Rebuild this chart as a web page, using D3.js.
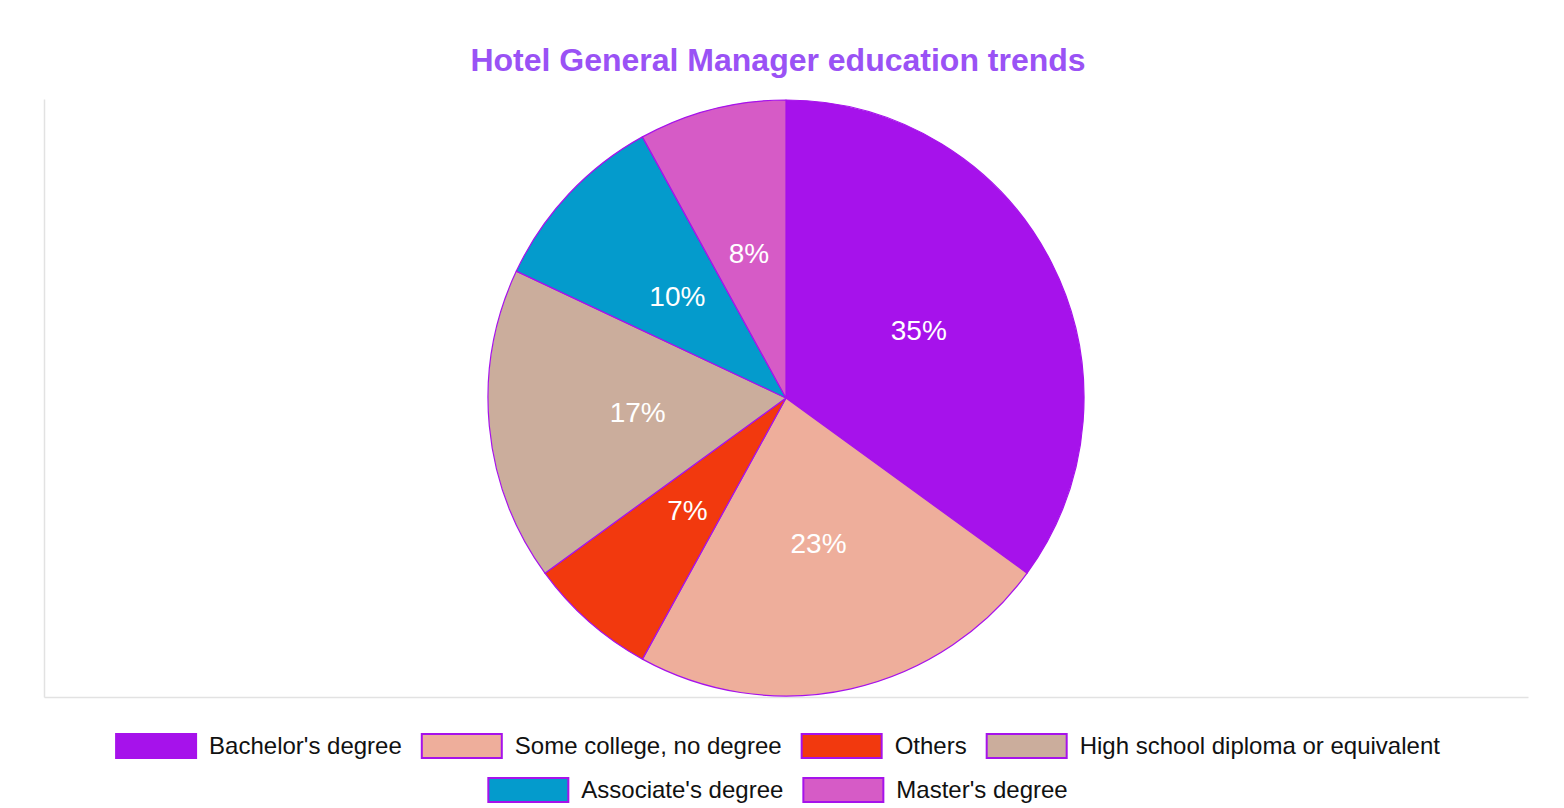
<!DOCTYPE html>
<html>
<head>
<meta charset="utf-8">
<script src="https://cdn.jsdelivr.net/npm/d3@7"></script>
<style>
  body { margin: 0; background: #fff; }
  text { font-family: "Liberation Sans", Arial, Helvetica, sans-serif; }
</style>
</head>
<body>
<div id="chart"></div>
<script>
// data
const categories = [
  "Bachelor's degree",
  "Some college, no degree",
  "Others",
  "High school diploma or equivalent",
  "Associate's degree",
  "Master's degree"
];
const shares = [35, 23, 7, 17, 10, 8];
const colours = ['#a612eb', '#eeae9b', '#f2390e', '#cbad9c', '#049bcc', '#d65bc6'];
const title = 'Hotel General Manager education trends';

const width = 1564;
const height = 808;
const plot = { left: 44, right: 1528, top: 99, bottom: 697 };

const svg = d3.select('#chart')
  .append('svg')
  .attr('width', width)
  .attr('height', height);

// title
svg.append('text')
  .attr('x', 778)
  .attr('y', 71)
  .attr('text-anchor', 'middle')
  .attr('font-size', '32px')
  .attr('font-weight', 'bold')
  .attr('fill', '#9a52f5')
  .text(title);

// faint frame lines on left and bottom
const x = d3.scaleLinear().domain([0, 1]).range([plot.left, plot.right]);
const y = d3.scaleLinear().domain([0, 1]).range([plot.bottom, plot.top]);

svg.append('g')
  .attr('transform', `translate(0, ${plot.bottom})`)
  .call(d3.axisBottom(x).ticks(0).tickSize(0).tickFormat(''));
svg.append('g')
  .attr('transform', `translate(${plot.left}, 0)`)
  .call(d3.axisLeft(y).ticks(0).tickSize(0).tickFormat(''));
svg.selectAll('.domain')
  .attr('stroke', '#e2e2e2')
  .attr('stroke-width', 1.5);

// pie
const cx = (plot.left + plot.right) / 2;
const cy = (plot.top + plot.bottom) / 2;
const radius = 298;

const pie = d3.pie().sort(null).value((d) => d.value);
const arc = d3.arc().innerRadius(0).outerRadius(radius);

const slices = pie(categories.map((c, i) => ({ name: c, value: shares[i], colour: colours[i] })));

const g = svg.append('g').attr('transform', `translate(${cx}, ${cy})`);

g.selectAll('path')
  .data(slices)
  .join('path')
  .attr('d', arc)
  .attr('fill', (d) => d.data.colour)
  .attr('stroke', '#a612eb')
  .attr('stroke-width', 1.2)
  .attr('stroke-linejoin', 'round');

g.selectAll('text.pct')
  .data(slices)
  .join('text')
  .attr('class', 'pct')
  .attr('transform', (d) => `translate(${arc.centroid(d)})`)
  .attr('text-anchor', 'middle')
  .attr('dy', '0.35em')
  .attr('font-size', '28px')
  .attr('fill', '#fff')
  .text((d) => d.data.value + '%');

// legend, centred rows like the original
const boxW = 80, boxH = 24, boxGap = 13, itemGap = 20, rowH = 44;
const legendY = 746;
const legendMid = 778;
const maxRow = 1400;

const legend = svg.append('g');
const items = legend.selectAll('g')
  .data(slices)
  .join('g');

items.append('rect')
  .attr('width', boxW)
  .attr('height', boxH)
  .attr('y', -boxH / 2)
  .attr('fill', (d) => d.data.colour)
  .attr('stroke', '#a612eb')
  .attr('stroke-width', 2);

items.append('text')
  .attr('x', boxW + boxGap)
  .attr('dy', '0.35em')
  .attr('font-size', '24px')
  .attr('fill', '#111')
  .text((d) => d.data.name);

// work out rows from measured text widths
const widths = [];
items.each(function () {
  widths.push(boxW + boxGap + d3.select(this).select('text').node().getComputedTextLength());
});
const rows = [[]];
let rowWidth = 0;
widths.forEach((w, i) => {
  const add = (rows[rows.length - 1].length ? itemGap : 0) + w;
  if (rowWidth + add > maxRow && rows[rows.length - 1].length) {
    rows.push([i]);
    rowWidth = w;
  } else {
    rows[rows.length - 1].push(i);
    rowWidth += add;
  }
});
const pos = [];
rows.forEach((row, r) => {
  const total = d3.sum(row, (i) => widths[i]) + itemGap * (row.length - 1);
  let px = legendMid - total / 2;
  row.forEach((i) => {
    pos[i] = [px, legendY + r * rowH];
    px += widths[i] + itemGap;
  });
});
items.attr('transform', (d, i) => `translate(${pos[i][0]}, ${pos[i][1]})`);
</script>
</body>
</html>
